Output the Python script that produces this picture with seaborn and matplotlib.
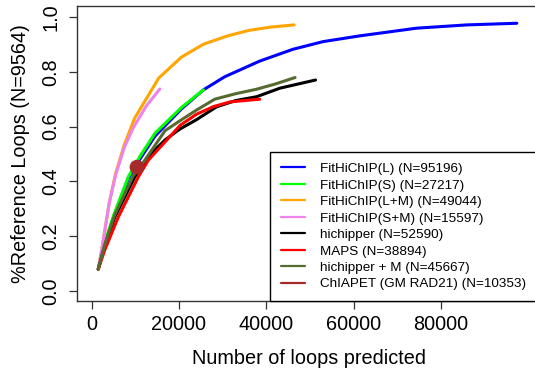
import matplotlib
matplotlib.use("Agg")
import matplotlib.pyplot as plt
from matplotlib.lines import Line2D
import seaborn as sns
import pandas as pd

# Recall curves: number of predicted loops vs. fraction of reference loops recovered
fithichip_L_x = [1500, 3000, 5000, 8400, 11000, 14500, 20600, 25600, 30500, 38500, 46100, 53000, 61400, 74400, 85900, 97400]
fithichip_L_y = [0.08, 0.17, 0.27, 0.41, 0.48, 0.565, 0.665, 0.734, 0.782, 0.839, 0.882, 0.91, 0.931, 0.959, 0.971, 0.977]

fithichip_S_x = [1500, 3000, 5000, 8400, 11000, 14500, 20600, 25600]
fithichip_S_y = [0.08, 0.175, 0.275, 0.417, 0.49, 0.576, 0.67, 0.734]

fithichip_LM_x = [1500, 2500, 4000, 5500, 7500, 9850, 15350, 20600, 25660, 31160, 36000, 41000, 46400]
fithichip_LM_y = [0.08, 0.17, 0.32, 0.43, 0.535, 0.631, 0.777, 0.854, 0.901, 0.931, 0.951, 0.963, 0.971]

fithichip_SM_x = [1500, 2500, 4000, 5500, 7500, 9500, 12500, 15600]
fithichip_SM_y = [0.08, 0.17, 0.32, 0.425, 0.525, 0.595, 0.675, 0.737]

hichipper_x = [1500, 3000, 5300, 9900, 13700, 16800, 20100, 24000, 28600, 33000, 37800, 43100, 51300]
hichipper_y = [0.08, 0.165, 0.27, 0.417, 0.503, 0.551, 0.59, 0.625, 0.672, 0.695, 0.709, 0.74, 0.77]

maps_x = [1500, 3000, 6100, 10700, 13000, 16000, 20300, 24000, 27900, 31700, 38500]
maps_y = [0.08, 0.15, 0.27, 0.417, 0.478, 0.53, 0.605, 0.645, 0.673, 0.69, 0.70]

hichipper_M_x = [1500, 3000, 5200, 9500, 12200, 16800, 20300, 24000, 28200, 33000, 37700, 42000, 46600]
hichipper_M_y = [0.08, 0.17, 0.275, 0.42, 0.478, 0.585, 0.622, 0.66, 0.70, 0.72, 0.736, 0.755, 0.779]

chiapet_x = [10353]
chiapet_y = [0.452]

labels = ["FitHiChIP(L) (N=95196)", "FitHiChIP(S) (N=27217)", "FitHiChIP(L+M) (N=49044)",
          "FitHiChIP(S+M) (N=15597)", "hichipper (N=52590)", "MAPS (N=38894)",
          "hichipper + M (N=45667)", "ChIAPET (GM RAD21) (N=10353)"]
colors = ["#0000FF", "#00FF00", "#FFA500", "#EE82EE", "#000000", "#FF0000", "#556B2F", "#A52A2A"]

series = [(fithichip_L_x, fithichip_L_y), (fithichip_S_x, fithichip_S_y),
          (fithichip_LM_x, fithichip_LM_y), (fithichip_SM_x, fithichip_SM_y),
          (hichipper_x, hichipper_y), (maps_x, maps_y), (hichipper_M_x, hichipper_M_y)]

sns.set_style("ticks")
plt.rcParams["font.family"] = ["Liberation Sans", "DejaVu Sans"]
plt.rcParams["text.color"] = "black"
plt.rcParams["axes.labelcolor"] = "black"

fig = plt.figure(figsize=(5.35, 3.76), dpi=100)
W, H = 535, 376
ax = fig.add_axes([77 / W, (H - 301) / H, (540.35 - 77) / W, (301 - 6) / H])

for (xs, ys), lab, col in zip(series, labels, colors):
    df = pd.DataFrame({"x": xs, "y": ys})
    sns.lineplot(data=df, x="x", y="y", ax=ax, color=col, linewidth=2.2,
                 sort=False, estimator=None, legend=False)

sns.scatterplot(x=chiapet_x, y=chiapet_y, ax=ax, color=colors[7], s=110,
                edgecolor="none", legend=False, zorder=5)

ax.set_xlim(-3370, 102800)
ax.set_ylim(-0.0365, 1.040)
ax.set_xticks([0, 20000, 40000, 60000, 80000])
ax.set_xticklabels(["0", "20000", "40000", "60000", "80000"])
ax.set_yticks([0.0, 0.2, 0.4, 0.6, 0.8, 1.0])
ax.set_yticklabels(["0.0", "0.2", "0.4", "0.6", "0.8", "1.0"], rotation=90, va="center")

ax.tick_params(axis="both", direction="out", length=6, width=0.9, color="#333333",
               labelsize=14.3, labelcolor="black")
ax.tick_params(axis="x", pad=4)
ax.tick_params(axis="y", pad=6)
for side in ["left", "bottom", "top", "right"]:
    ax.spines[side].set_visible(True)
    ax.spines[side].set_color("#333333")
    ax.spines[side].set_linewidth(1.0)

ax.set_xlabel("Number of loops predicted", fontsize=14.3, labelpad=11)
ax.set_ylabel("%Reference Loops (N=9564)", fontsize=14.3, labelpad=8)

handles = [Line2D([0], [0], color=c, lw=1.6) for c in colors]
leg = ax.legend(handles, labels, loc="lower left",
                bbox_to_anchor=((270 - 77) / (540.35 - 77), 0.0),
                fontsize=9.7, frameon=True, fancybox=False, shadow=False,
                borderaxespad=0, borderpad=0.78, labelspacing=0.30,
                handlelength=1.85, handletextpad=1.1)
leg.get_frame().set_edgecolor("black")
leg.get_frame().set_linewidth(1.0)
leg.get_frame().set_alpha(1.0)

fig.savefig("out.png", dpi=100)
